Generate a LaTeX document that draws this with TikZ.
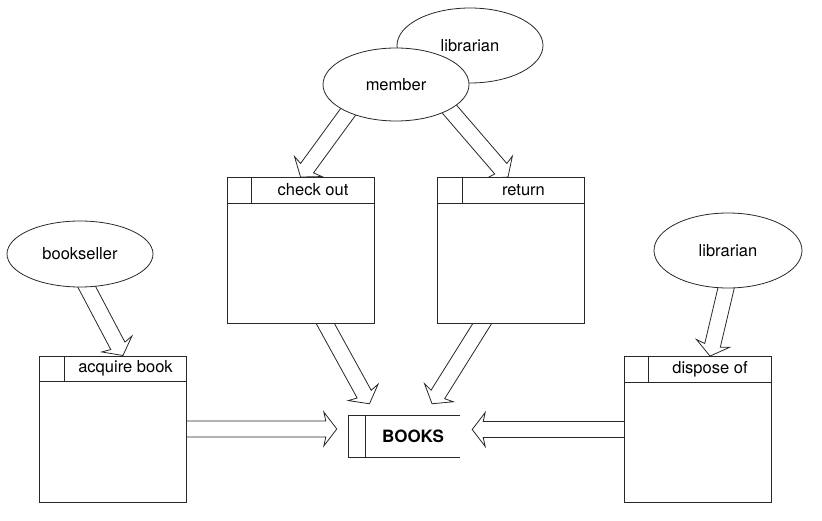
\documentclass[tikz,border=0pt]{standalone}
\usepackage{fontspec}
\setmainfont{TeX Gyre Heros}
\usetikzlibrary{shapes.geometric, calc, backgrounds}
\definecolor{inkGray}{RGB}{40, 40, 40}

% hollow block arrow from #1 to #2
\newcommand{\fatarrow}[2]{%
  \path[draw=inkGray, fill=white, line width=0.8pt, line join=miter]
    let \p1=($(#2)-(#1)$), \n1={atan2(\y1,\x1)}, \n2={veclen(\x1,\y1)} in
    [shift={(#1)}, rotate=\n1]
    (-14pt,-8pt) -- ({\n2*1pt-11pt},-8pt) -- ({\n2*1pt-13pt},-17pt)
    -- ({\n2*1pt},0pt) -- ({\n2*1pt-13pt},17pt) -- ({\n2*1pt-11pt},8pt)
    -- (-14pt,8pt) -- cycle;}

\begin{document}
\begin{tikzpicture}[
  x=1pt, y=-1pt,
  actor/.style={ellipse, draw=inkGray, fill=white, line width=0.8pt,
                minimum width=146pt, minimum height=73pt, inner sep=0pt,
                font=\fontsize{16.5}{20}\selectfont},
  proc/.style={draw=inkGray, fill=white, line width=0.8pt,
               minimum width=147pt, minimum height=146pt, inner sep=0pt},
  sep/.style={draw=inkGray, line width=0.8pt},
  lbl/.style={inner sep=0pt, font=\fontsize{16.5}{20}\selectfont}
]
  \useasboundingbox (0,0) rectangle (822,521);

  % External entities
  \node[actor, minimum height=66pt] (seller) at (80,254) {bookseller};
  \node[actor, minimum height=75pt] (libtop) at (470,45.5) {librarian};
  \node[actor] (member) at (396,84.5) {member};
  \node[actor, minimum width=148pt, minimum height=75pt] (libright) at (728,250.5) {librarian};

  % Processes
  \node[proc] (acqbook) at (113,429) {};
  \node[proc] (checkout) at (300.5,250.5) {};
  \node[proc] (retbook) at (511,250.5) {};
  \node[proc] (dispose) at (697.5,429.5) {};
  \foreach \p/\t in {acqbook/acquire book, checkout/check out,
                     retbook/return, dispose/dispose of} {
    \draw[sep] ([yshift=-26pt]\p.north west) -- ([yshift=-26pt]\p.north east);
    \draw[sep] ([xshift=25pt]\p.north west) -- ([xshift=25pt,yshift=-26pt]\p.north west);
    \node[lbl] (\p-lbl) at ([xshift=12.5pt,yshift=-13pt]\p.north) {\t};
  }

  % Data store
  \node[minimum width=111pt, minimum height=41pt, inner sep=0pt] (books) at (404.5,436.5) {};
  \draw[sep] (books.north east) -- (books.north west) -- (books.south west) -- (books.south east);
  \draw[sep] ([xshift=17pt]books.north west) -- ([xshift=17pt]books.south west);
  \node[lbl, font=\fontsize{17}{20}\selectfont\bfseries] (books-lbl)
    at ([xshift=8.5pt]books.center) {BOOKS};

  \coordinate (acqtip) at ($(books.west |- acqbook.east)+(-12pt,0pt)$);
  \coordinate (distip) at ($(books.east |- dispose.west)+(12pt,0pt)$);

  % Flows
  \begin{scope}[on background layer]
    \fatarrow{[xshift=7pt]seller.south}{[xshift=10pt]acqbook.north}
    \fatarrow{member.210}{checkout.north}
    \fatarrow{member.-25}{[xshift=-3pt]retbook.north}
    \fatarrow{[xshift=25pt]checkout.south}{[xshift=-35pt,yshift=12pt]books.north}
    \fatarrow{[xshift=-29pt]retbook.south}{[xshift=27.5pt,yshift=12pt]books.north}
    \fatarrow{acqbook.east}{acqtip}
    \fatarrow{dispose.west}{distip}
    \fatarrow{[xshift=-2pt]libright.south}{[xshift=12.5pt]dispose.north}
  \end{scope}
\end{tikzpicture}
\end{document}
